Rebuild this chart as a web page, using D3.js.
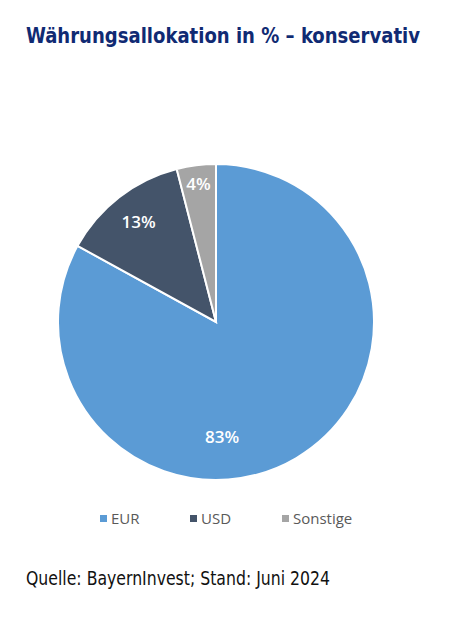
<!DOCTYPE html>
<html><head><meta charset="utf-8">
<script src="https://cdn.jsdelivr.net/npm/d3@7"></script>
<style>body{margin:0;background:#fff;}</style>
</head><body>
<svg id="c" width="461" height="619"></svg>
<script>
const categories = ["EUR", "USD", "Sonstige"];
const values = [83, 13, 4];
const labels = ["83%", "13%", "4%"];
const colors = ["#5B9BD5", "#44546A", "#A5A5A5"];

const svg = d3.select("#c");
svg.append("rect").attr("width",461).attr("height",619).attr("fill","#fff");

svg.append("text").attr("x",26).attr("y",43)
  .attr("font-family","'DejaVu Sans Condensed','DejaVu Sans'")
  .attr("font-weight","bold").attr("font-size",21.5).attr("fill","#102a73")
  .attr("textLength",394).attr("lengthAdjust","spacingAndGlyphs")
  .text("Währungsallokation in % – konservativ");

const cx = 216, cy = 322, r = 158;
const pie = d3.pie().sort(null).value(d=>d)(values);
const arc = d3.arc().innerRadius(0).outerRadius(r);
const g = svg.append("g").attr("transform",`translate(${cx},${cy})`);
g.selectAll("path").data(pie).join("path")
  .attr("d",arc).attr("fill",(d,i)=>colors[i])
  .attr("stroke","#fff").attr("stroke-width",2);

// label placement (Excel "best fit"-like): radius fraction and angle per slice
function labelPos(d,i){
  let a = (d.startAngle+d.endAngle)/2, rf;
  if(i===0){ a = Math.PI*0.983; rf = 0.73; }
  else if(i===1){ rf = 0.8; }
  else { rf = 0.88; }
  return [Math.sin(a)*r*rf, -Math.cos(a)*r*rf];
}
g.selectAll("text").data(pie).join("text")
  .attr("transform",(d,i)=>{ const c = labelPos(d,i); return `translate(${c[0]},${c[1]})`; })
  .attr("text-anchor","middle").attr("dy","0.36em")
  .attr("font-family","'Open Sans'").attr("font-weight",600).attr("font-size",17).attr("fill","#fff")
  .text((d,i)=>labels[i]);

const legSq = [100, 190, 282];
const leg = svg.append("g");
categories.forEach((c,i)=>{
  leg.append("rect").attr("x",legSq[i]).attr("y",515).attr("width",7).attr("height",7).attr("fill",colors[i]);
  leg.append("text").attr("x",legSq[i]+11).attr("y",524)
    .attr("font-family","'Open Sans'").attr("font-size",15).attr("fill","#595959").text(c);
});

svg.append("text").attr("x",26).attr("y",585)
  .attr("font-family","'DejaVu Sans Condensed','DejaVu Sans'")
  .attr("font-size",19.5).attr("fill","#111")
  .attr("textLength",304).attr("lengthAdjust","spacingAndGlyphs")
  .text("Quelle: BayernInvest; Stand: Juni 2024");
</script>
</body></html>
